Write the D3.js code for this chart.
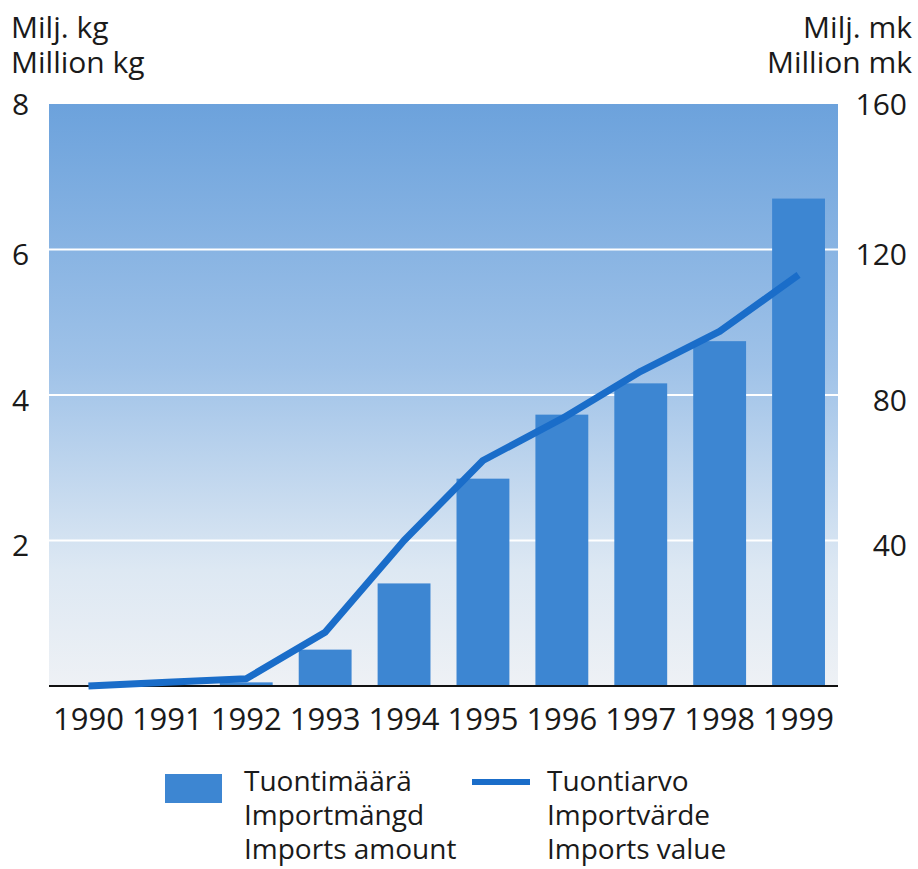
<!DOCTYPE html>
<html>
<head>
<meta charset="utf-8">
<script src="https://d3js.org/d3.v7.min.js"></script>
<style>
  body { margin: 0; background: #fff; }
  text { font-family: "Open Sans", sans-serif; fill: #1a1a1a; }
</style>
</head>
<body>
<div id="chart"></div>
<script>
    // data
    var years = ["1990", "1991", "1992", "1993", "1994", "1995", "1996", "1997", "1998", "1999"];
    var amount = [0, 0, 0.05, 0.5, 1.41, 2.85, 3.73, 4.16, 4.74, 6.7];      // million kg
    var value = [0, 1, 2, 14.8, 40, 62, 73.5, 86.5, 97.5, 113];             // million mk
    var leftTicks = [2, 4, 6, 8];
    var rightTicks = [40, 80, 120, 160];

    var width = 918, height = 869;
    var plotLeft = 49, plotRight = 838, plotTop = 104, plotBottom = 686;

    const svg = d3.select("#chart").append("svg")
        .attr("width", width)
        .attr("height", height);

    var x = d3.scaleBand().domain(years).range([plotLeft, plotRight]).paddingInner(0.33).paddingOuter(0.165);
    var y = d3.scaleLinear().domain([0, 8]).range([plotBottom, plotTop]);
    var y2 = d3.scaleLinear().domain([0, 160]).range([plotBottom, plotTop]);

    // background gradient
    var grad = svg.append("defs").append("linearGradient")
        .attr("id", "bg").attr("x1", 0).attr("y1", 0).attr("x2", 0).attr("y2", 1);
    grad.append("stop").attr("offset", "0%").attr("stop-color", "#6ca2dc");
    grad.append("stop").attr("offset", "45%").attr("stop-color", "#9fc2e8");
    grad.append("stop").attr("offset", "80%").attr("stop-color", "#dde8f3");
    grad.append("stop").attr("offset", "100%").attr("stop-color", "#eef1f5");

    svg.append("rect")
        .attr("x", plotLeft).attr("y", y(8))
        .attr("width", plotRight - plotLeft).attr("height", plotBottom - y(8))
        .attr("fill", "url(#bg)");

    // white gridlines
    svg.selectAll(".grid")
        .data([2, 4, 6])
        .enter().append("line")
        .attr("x1", plotLeft).attr("x2", plotRight)
        .attr("y1", d => y(d)).attr("y2", d => y(d))
        .attr("stroke", "#fff").attr("stroke-width", 2);

    // bars
    svg.selectAll(".bar")
        .data(amount)
        .enter().append("rect")
        .attr("x", (d, i) => x(years[i]))
        .attr("width", x.bandwidth())
        .attr("y", d => y(d))
        .attr("height", d => plotBottom - y(d))
        .attr("fill", "#3d86d2");

    // base line
    svg.append("line")
        .attr("x1", plotLeft).attr("x2", plotRight)
        .attr("y1", plotBottom).attr("y2", plotBottom)
        .attr("stroke", "#111").attr("stroke-width", 2);

    // value line
    var line = d3.line()
        .x((d, i) => x(years[i]) + x.bandwidth() / 2)
        .y(d => y2(d));
    svg.append("path")
        .datum(value)
        .attr("d", line)
        .attr("fill", "none")
        .attr("stroke", "#1a6dc9")
        .attr("stroke-width", 7)
        .attr("stroke-linejoin", "round");

    // left axis labels
    svg.selectAll(".lt")
        .data(leftTicks)
        .enter().append("text")
        .attr("x", 12).attr("y", d => y(d) + (d === 8 ? 0 : 5))
        .attr("dy", "0.36em")
        .attr("font-size", 30)
        .text(d => d);

    // right axis labels
    svg.selectAll(".rt")
        .data(rightTicks)
        .enter().append("text")
        .attr("x", 907).attr("y", d => y2(d) + (d === 160 ? 0 : 5))
        .attr("dy", "0.36em")
        .attr("text-anchor", "end")
        .attr("font-size", 30)
        .text(d => d);

    // year labels
    svg.selectAll(".yr")
        .data(years)
        .enter().append("text")
        .attr("x", d => x(d) + x.bandwidth() / 2)
        .attr("y", 730)
        .attr("text-anchor", "middle")
        .attr("font-size", 31)
        .text(d => d);

    // axis titles
    svg.append("text").attr("x", 11).attr("y", 38).attr("font-size", 30).text("Milj. kg");
    svg.append("text").attr("x", 11).attr("y", 73).attr("font-size", 30).text("Million kg");
    svg.append("text").attr("x", 912).attr("y", 38).attr("font-size", 30).attr("text-anchor", "end").text("Milj. mk");
    svg.append("text").attr("x", 912).attr("y", 73).attr("font-size", 30).attr("text-anchor", "end").text("Million mk");

    // legend
    var legend = svg.append("g");
    legend.append("rect")
        .attr("x", 165).attr("y", 774).attr("width", 57).attr("height", 29)
        .attr("fill", "#3d86d2");
    legend.append("line")
        .attr("x1", 472).attr("x2", 530).attr("y1", 782).attr("y2", 782)
        .attr("stroke", "#1a6dc9").attr("stroke-width", 6);

    var leg1 = ["Tuontimäärä", "Importmängd", "Imports amount"];
    var leg2 = ["Tuontiarvo", "Importvärde", "Imports value"];
    legend.selectAll(".l1")
        .data(leg1)
        .enter().append("text")
        .attr("x", 244).attr("y", (d, i) => 791 + i * 34)
        .attr("font-size", 28)
        .text(d => d);
    legend.selectAll(".l2")
        .data(leg2)
        .enter().append("text")
        .attr("x", 547).attr("y", (d, i) => 791 + i * 34)
        .attr("font-size", 28)
        .text(d => d);
</script>
</body>
</html>
